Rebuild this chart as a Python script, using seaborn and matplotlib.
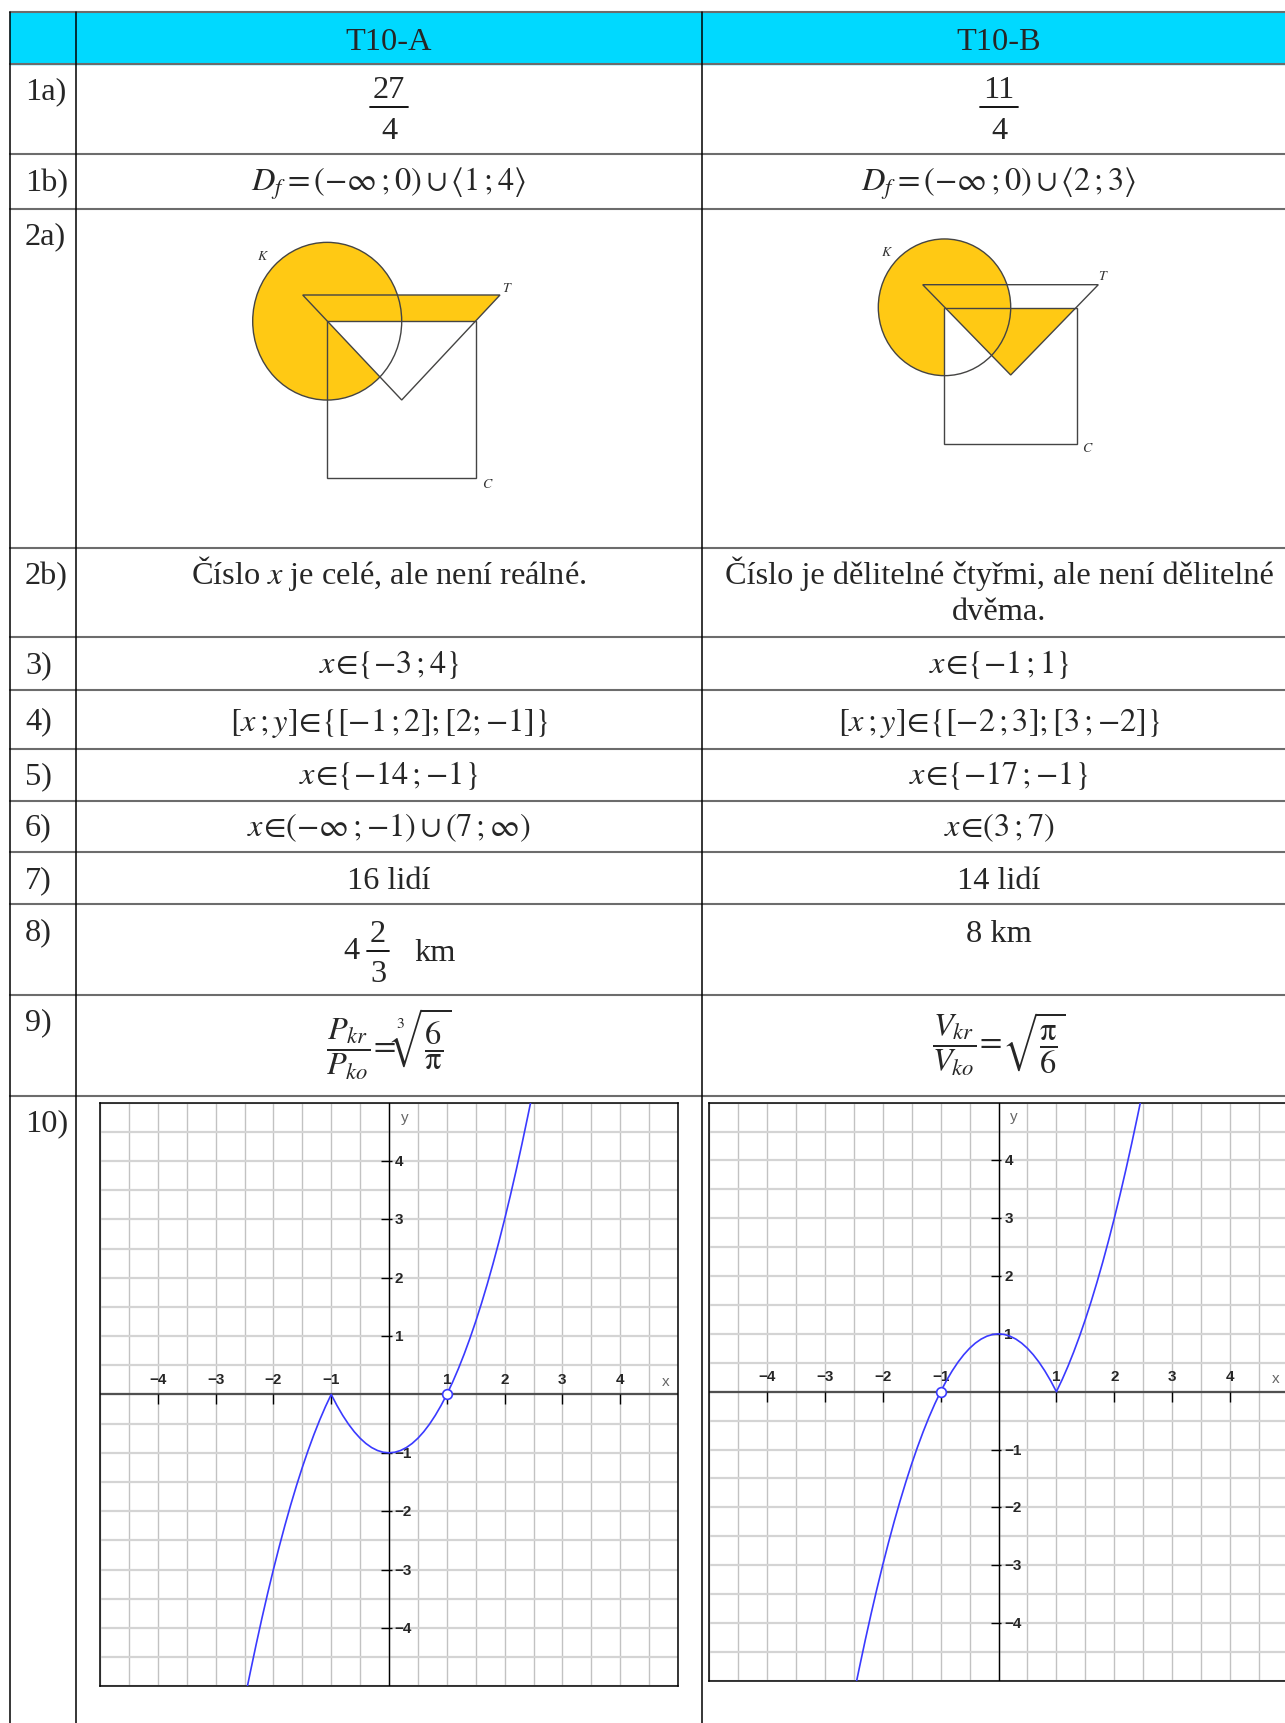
import numpy as np
import matplotlib.pyplot as plt
import seaborn as sns
from matplotlib.patches import Ellipse, Polygon, Rectangle

W, H = 1285, 1724

# --- obsah tabulky ---
headers = ['T10-A', 'T10-B']
row_labels = ['1a)', '1b)', '2a)', '2b)', '3)', '4)', '5)', '6)', '7)', '8)', '9)', '10)']

frac_1a = [('27', '4'), ('11', '4')]
mixed_8a = ['4', '2', '3', 'km']

answers_a = [
    None,
    r'$D_f=(-\infty\,;0)\cup\langle 1\,;4\rangle$',
    None,
    'Číslo $x$ je celé, ale není reálné.',
    r'$x\!\in\!\{-3\,;4\}$',
    r'$[x\,;y]\!\in\!\{[-1\,;2];[2;{-1}]\}$',
    r'$x\!\in\!\{-14\,;{-1}\}$',
    r'$x\!\in\!(-\infty\,;{-1})\cup(7\,;\infty)$',
    '16 lidí',
    None,
    r'$\dfrac{P_{kr}}{P_{ko}}\!=\!\sqrt[3]{\dfrac{6}{\mathrm{\pi}}}$',
    None,
]
answers_b = [
    None,
    r'$D_f=(-\infty\,;0)\cup\langle 2\,;3\rangle$',
    None,
    'Číslo je dělitelné čtyřmi, ale není dělitelné\ndvěma.',
    r'$x\!\in\!\{-1\,;1\}$',
    r'$[x\,;y]\!\in\!\{[-2\,;3];[3\,;{-2}]\}$',
    r'$x\!\in\!\{-17\,;{-1}\}$',
    r'$x\!\in\!(3\,;7)$',
    '14 lidí',
    '8 km',
    r'$\dfrac{V_{kr}}{V_{ko}}\!=\!\sqrt{\dfrac{\mathrm{\pi}}{6}}$',
    None,
]

# --- 2a) obrazce K (kruh), C (ctverec), T (trojuhelnik) ---
circle_a = [327.2, 322.2, 149.0, 157.7]
square_a = [327.3, 322.3, 148.7, 157.0]
triangle_a = [[302.7, 296.0], [500.0, 296.0], [401.7, 401.0]]
circle_b = [944.5, 308.3, 132.4, 136.7]
square_b = [944.3, 308.7, 132.4, 136.3]
triangle_b = [[922.7, 285.7], [1098.3, 285.7], [1010.7, 376.0]]

# --- 10) grafy funkci (body odectene z obrazku) ---
graph_x = [-2.45, -2.4, -2.3, -2.2, -2.1, -2.0, -1.9, -1.8, -1.7, -1.6, -1.5, -1.4, -1.3,
           -1.2, -1.1, -1.0, -0.9, -0.8, -0.7, -0.6, -0.5, -0.4, -0.3, -0.2, -0.1, 0.0,
           0.1, 0.2, 0.3, 0.4, 0.5, 0.6, 0.7, 0.8, 0.9, 1.0, 1.1, 1.2, 1.3, 1.4, 1.5,
           1.6, 1.7, 1.8, 1.9, 2.0, 2.1, 2.2, 2.3, 2.4, 2.45]
graph_a_y = [-5.0, -4.76, -4.29, -3.84, -3.41, -3.0, -2.61, -2.24, -1.89, -1.56, -1.25,
             -0.96, -0.69, -0.44, -0.21, 0.0,
             -0.19, -0.36, -0.51, -0.64, -0.75, -0.84, -0.91, -0.96, -0.99, -1.0,
             -0.99, -0.96, -0.91, -0.84, -0.75, -0.64, -0.51, -0.36, -0.19, 0.0,
             0.21, 0.44, 0.69, 0.96, 1.25, 1.56, 1.89, 2.24, 2.61, 3.0, 3.41, 3.84,
             4.29, 4.76, 5.0]
graph_b_y = [-5.0, -4.76, -4.29, -3.84, -3.41, -3.0, -2.61, -2.24, -1.89, -1.56, -1.25,
             -0.96, -0.69, -0.44, -0.21, 0.0,
             0.19, 0.36, 0.51, 0.64, 0.75, 0.84, 0.91, 0.96, 0.99, 1.0,
             0.99, 0.96, 0.91, 0.84, 0.75, 0.64, 0.51, 0.36, 0.19, 0.0,
             0.21, 0.44, 0.69, 0.96, 1.25, 1.56, 1.89, 2.24, 2.61, 3.0, 3.41, 3.84,
             4.29, 4.76, 5.0]
hole_a = [1.0, 0.0]
hole_b = [-1.0, 0.0]
tick_vals = [-4, -3, -2, -1, 1, 2, 3, 4]

# rozlozeni tabulky (pixely)
row_edges = [13, 64.5, 155, 210, 548.5, 637.5, 690.5, 749.5, 801.5, 853, 905, 996, 1097]
col_edges = [10, 76, 702]
col_centers = [389, 999]
label_y = [99, 191, 244, 584, 673, 729, 784, 835, 888, 940, 1030, 1131]
answer_pos = [None, (191, 'baseline'), None, (584, 'baseline'), (673, 'baseline'),
              (731, 'baseline'), (784, 'baseline'), (836, 'baseline'), (889, 'baseline'),
              (942, 'baseline'), (1044, 'center'), None]

CYAN = '#00D9FF'
YELLOW = '#FFC914'
EDGE = '#444444'
BLUE = '#3a3aff'

sns.set_theme(style='white')
plt.rcParams['font.family'] = ['Liberation Serif', 'DejaVu Serif']
plt.rcParams['mathtext.fontset'] = 'stix'
FS = 23.3

fig = plt.figure(figsize=(W / 100, H / 100), dpi=100)
ax = fig.add_axes([0, 0, 1, 1])
ax.set_xlim(0, W)
ax.set_ylim(H, 0)
ax.axis('off')

# hlavicka a mrizka tabulky
ax.add_patch(Rectangle((col_edges[0], row_edges[0]), W - col_edges[0],
                       row_edges[1] - row_edges[0], color=CYAN, zorder=0))
for y in row_edges:
    ax.plot([col_edges[0], W], [y, y], color='#6c6c6c', lw=1.5, zorder=1)
for x in col_edges:
    ax.plot([x, x], [row_edges[0], H], color='black', lw=1.1, zorder=1)

for c, h in zip(col_centers, headers):
    ax.text(c, 50, h, ha='center', va='baseline', fontsize=FS)

for lab, y in zip(row_labels, label_y):
    ax.text(25, y, lab, ha='left', va='baseline', fontsize=FS)

for i, pos in enumerate(answer_pos):
    if pos is None:
        continue
    y, va = pos
    for c, ans in zip(col_centers, [answers_a[i], answers_b[i]]):
        if ans is None:
            continue
        for k, line in enumerate(ans.split('\n')):
            ax.text(c, y + 36 * k, line, ha='center', va=va, fontsize=FS)


def draw_frac(x, ybar, num, den):
    em = FS * 100 / 72
    half = max(len(num), len(den)) * 0.25 * em + 0.1 * em
    ax.text(x, ybar - 10, num, ha='center', va='baseline', fontsize=FS)
    ax.plot([x - half, x + half], [ybar, ybar], color='black', lw=1.3)
    ax.text(x, ybar + 30.5, den, ha='center', va='baseline', fontsize=FS)


# 1a) zlomky
for c, (num, den) in zip(col_centers, frac_1a):
    draw_frac(c, 108.3, num, den)

# 8) smisene cislo ve sloupci A
ax.text(360, 959, mixed_8a[0], ha='right', va='baseline', fontsize=FS)
draw_frac(378, 951.7, mixed_8a[1], mixed_8a[2])
ax.text(414, 961, mixed_8a[3], ha='left', va='baseline', fontsize=FS)


def shape_patches(circle, square, tri, **kw):
    k = Ellipse((circle[0], circle[1]), circle[2], circle[3], transform=ax.transData, **kw)
    c = Rectangle((square[0], square[1]), square[2], square[3], transform=ax.transData, **kw)
    t = Polygon(tri, closed=True, transform=ax.transData, **kw)
    return k, c, t


# varianta A: (K u T) bez (T n C)
k, c, t = shape_patches(circle_a, square_a, triangle_a, lw=0)
k.set_facecolor(YELLOW)
t.set_facecolor(YELLOW)
ax.add_patch(k)
ax.add_patch(t)
t2 = Polygon(triangle_a, closed=True, facecolor='white', lw=0, transform=ax.transData)
ax.add_patch(t2)
t2.set_clip_path(Rectangle((square_a[0], square_a[1]), square_a[2], square_a[3],
                           transform=ax.transData))

# varianta B: (K bez C) u (T n C)
k, c, t = shape_patches(circle_b, square_b, triangle_b, lw=0)
k.set_facecolor(YELLOW)
ax.add_patch(k)
c.set_facecolor('white')
ax.add_patch(c)
c.set_clip_path(Ellipse((circle_b[0], circle_b[1]), circle_b[2], circle_b[3],
                        transform=ax.transData))
t.set_facecolor(YELLOW)
ax.add_patch(t)
t.set_clip_path(Rectangle((square_b[0], square_b[1]), square_b[2], square_b[3],
                          transform=ax.transData))

for circ, sq, tri in [(circle_a, square_a, triangle_a), (circle_b, square_b, triangle_b)]:
    for p in shape_patches(circ, sq, tri, fill=False, edgecolor=EDGE, lw=1.0):
        ax.add_patch(p)

for (kx, ky), (tx, ty), (cx, cy) in [((263, 256), (507, 288), (488, 485)),
                                      ((887, 252), (1103, 277), (1088, 449))]:
    ax.text(kx, ky, '$K$', ha='center', va='center', fontsize=10, color='#333333')
    ax.text(tx, ty, '$T$', ha='center', va='center', fontsize=10, color='#333333')
    ax.text(cx, cy, '$C$', ha='center', va='center', fontsize=10, color='#333333')


def tick_text(v):
    return f'{v}'.replace('-', '\u2212')


def draw_graph(gax, xs, ys, hole):
    gax.set_xlim(-5, 5)
    gax.set_ylim(-5, 5)
    grid = np.arange(-5, 5.01, 0.5)
    gax.set_xticks(grid)
    gax.set_yticks(grid)
    gax.tick_params(length=0, labelbottom=False, labelleft=False)
    gax.xaxis.grid(True, color='#c2c2c2', lw=1.0)
    gax.yaxis.grid(True, color='#d4d4d4', lw=1.6)
    gax.set_axisbelow(True)
    for s in gax.spines.values():
        s.set_color('black')
        s.set_linewidth(1.1)
    gax.axhline(0, color='#505050', lw=1.6, zorder=2)
    gax.axvline(0, color='black', lw=1.0, zorder=2)
    gax.vlines(tick_vals, -0.17, 0, color='black', lw=1.0, zorder=2)
    gax.hlines(tick_vals, -0.13, 0.05, color='black', lw=1.0, zorder=2)
    for v in tick_vals:
        gax.text(v, 0.27, tick_text(v), ha='center', va='center', fontsize=11,
                 fontweight='bold', family='Liberation Sans')
        gax.text(0.1, v, tick_text(v), ha='left', va='center', fontsize=11,
                 fontweight='bold', family='Liberation Sans')
    gax.text(4.78, 0.23, 'x', ha='center', va='center', fontsize=11,
             color='#666666', family='Liberation Sans')
    gax.text(0.27, 4.76, 'y', ha='center', va='center', fontsize=11,
             color='#666666', family='Liberation Sans')
    sns.lineplot(x=xs, y=ys, ax=gax, color=BLUE, lw=1.2, estimator=None,
                 sort=False, legend=False, zorder=3)
    gax.plot([hole[0]], [hole[1]], 'o', mfc='white', mec=BLUE, ms=7, mew=1.2, zorder=4)
    gax.set_xlabel('')
    gax.set_ylabel('')


axA = fig.add_axes([100 / W, 1 - 1687.3 / H, 578 / W, 583.7 / H])
draw_graph(axA, graph_x, graph_a_y, hole_a)
axB = fig.add_axes([709 / W, 1 - 1681.8 / H, 579 / W, 578.2 / H])
draw_graph(axB, graph_x, graph_b_y, hole_b)

fig.savefig('out.png', dpi=100)
